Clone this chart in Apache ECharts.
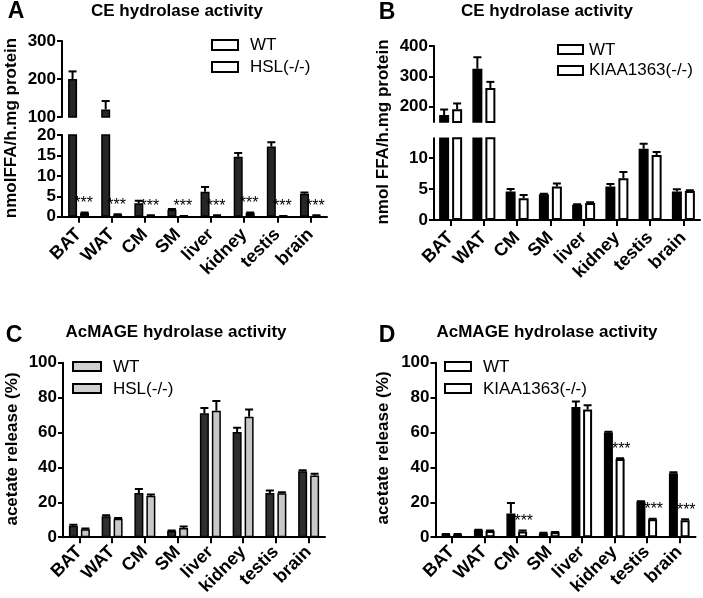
<!DOCTYPE html>
<html>
<head>
<meta charset="utf-8">
<script src="https://cdn.jsdelivr.net/npm/echarts@6/dist/echarts.min.js"></script>
<style>html,body{margin:0;padding:0;background:#fff}#c{width:703px;height:598px}</style>
</head>
<body>
<div id="c"></div>
<script>
// ---------- data ----------
const categories = ['BAT', 'WAT', 'CM', 'SM', 'liver', 'kidney', 'testis', 'brain'];

// Panel A: CE hydrolase activity, WT vs HSL(-/-)  (nmol FFA/h.mg protein)
const A_wt      = [200, 120, 3.3, 1.7, 6.1, 14.7, 17.2, 5.6];
const A_wt_err  = [20, 22, 0.6, 0.2, 1.2, 0.9, 1.0, 0.35];
const A_hsl     = [0.9, 0.5, 0.3, 0.1, 0.3, 0.9, 0.1, 0.3];
const A_hsl_err = [0.1, 0.1, 0.05, 0.05, 0.05, 0.1, 0.05, 0.05];
const A_sig     = ['***', '***', '***', '***', '***', '***', '***', '***'];
const A_upper_ticks = [100, 200, 300];
const A_lower_ticks = [0, 5, 10, 15, 20];

// Panel B: CE hydrolase activity, WT vs KIAA1363(-/-)
const B_wt      = [173, 325, 4.6, 4.15, 2.45, 5.4, 11.5, 4.6];
const B_wt_err  = [18, 38, 0.4, 0.1, 0.1, 0.4, 0.8, 0.35];
const B_ko      = [192, 262, 3.5, 5.4, 2.75, 6.75, 10.5, 4.7];
const B_ko_err  = [19, 20, 0.55, 0.5, 0.1, 1.0, 0.5, 0.1];
const B_upper_ticks = [200, 300, 400];
const B_lower_ticks = [0, 5, 10];

// Panel C: AcMAGE hydrolase activity, WT vs HSL(-/-)  (acetate release %)
const C_wt      = [6.5, 12, 25.3, 3.5, 71, 60.3, 25.3, 37.8];
const C_wt_err  = [0.6, 0.6, 2.3, 0.4, 3, 2.4, 1.4, 0.6];
const C_hsl     = [4.5, 10.5, 23.8, 5.3, 72.5, 69, 25.2, 35.3];
const C_hsl_err = [0.5, 0.5, 0.6, 0.8, 5.5, 4.2, 0.5, 1.0];

// Panel D: AcMAGE hydrolase activity, WT vs KIAA1363(-/-)
const D_wt      = [1.6, 4.1, 13.6, 2.3, 74.6, 60, 20.4, 36.7];
const D_wt_err  = [0.2, 0.2, 6, 0.2, 3.2, 0.4, 0.2, 0.5];
const D_ko      = [1.6, 3.6, 3.3, 2.8, 73.2, 44.8, 10.3, 9.7];
const D_ko_err  = [0.2, 0.2, 0.6, 0.2, 2.4, 0.5, 0.3, 0.6];
const D_sig     = ['', '', '***', '', '', '***', '***', '***'];
const pct_ticks = [0, 20, 40, 60, 80, 100];

// axis ranges (broken axes)
const A_lower = [0, 20], A_upper = [100, 300];
const B_lower = [0, 13.2], B_upper = [150, 400];

// ---------- helpers ----------
const FF = 'Arial, "Liberation Sans", Helvetica, sans-serif';

function yAx(gridIndex, min, max, ticks) {
  return {
    type: 'value', gridIndex, min, max,
    axisLine: { show: true, lineStyle: { color: '#000', width: 2 } },
    axisTick: { show: true, length: 5, lineStyle: { color: '#000', width: 2 }, customValues: ticks },
    axisLabel: { customValues: ticks, color: '#000', fontSize: 17, fontWeight: 'bold', fontFamily: FF, margin: 6 },
    splitLine: { show: false }
  };
}
function xAx(gridIndex, visible, margin) {
  return {
    type: 'category', gridIndex, data: categories, show: visible,
    axisLine: { show: true, onZero: false, lineStyle: { color: '#000', width: 2 } },
    axisTick: { show: true, alignWithLabel: true, length: 6, lineStyle: { color: '#000', width: 2 } },
    axisLabel: { interval: 0, rotate: 45, color: '#000', fontSize: 18, fontWeight: 'bold', fontFamily: FF, margin: margin },
    splitLine: { show: false }
  };
}
function bars(axisIdx, vals, keep, color, bw, gap, bwid) {
  return {
    type: 'bar', xAxisIndex: axisIdx, yAxisIndex: axisIdx, silent: true, clip: true,
    barWidth: bw, barGap: gap, animation: false,
    data: vals.map(v => keep(v) ? v : '-'),
    itemStyle: { color: color, borderColor: '#000', borderWidth: bwid }
  };
}
function errs(axisIdx, vals, es, dx, keep) {
  const data = [];
  vals.forEach((v, i) => { if (keep(v, v + es[i])) data.push([i, v, v + es[i]]); });
  return {
    type: 'custom', xAxisIndex: axisIdx, yAxisIndex: axisIdx, silent: true, clip: true, z: 5,
    encode: { x: 0, y: 1 }, data: data, animation: false,
    renderItem: function (params, api) {
      const c = api.coord([api.value(0), api.value(1)]);
      const t = api.coord([api.value(0), api.value(2)]);
      const x = c[0] + dx;
      return { type: 'group', children: [
        { type: 'line', shape: { x1: x, y1: c[1], x2: x, y2: t[1] }, style: { stroke: '#000', lineWidth: 2 } },
        { type: 'line', shape: { x1: x - 4, y1: t[1], x2: x + 4, y2: t[1] }, style: { stroke: '#000', lineWidth: 2 } }
      ]};
    }
  };
}
function stars(axisIdx, vals, es, sig, dx) {
  const data = [];
  vals.forEach((v, i) => { if (sig[i]) data.push([i, v + es[i], sig[i]]); });
  return {
    type: 'custom', xAxisIndex: axisIdx, yAxisIndex: axisIdx, silent: true, z: 6,
    encode: { x: 0, y: 1 }, data: data, animation: false,
    renderItem: function (params, api) {
      const c = api.coord([api.value(0), api.value(1)]);
      return { type: 'text', x: c[0] + dx, y: c[1] - 1,
        style: { text: data[params.dataIndex][2], fill: '#000', font: '16px ' + FF, textAlign: 'center', textVerticalAlign: 'bottom' } };
    }
  };
}

// grids: 0 A upper, 1 A lower, 2 B upper, 3 B lower, 4 C, 5 D
const grids = [
  { left: 62, top: 41, width: 265, height: 76 },
  { left: 62, top: 135, width: 265, height: 81.7 },
  { left: 434, top: 46, width: 266, height: 76 },
  { left: 434, top: 138.3, width: 266, height: 81.7 },
  { left: 63, top: 362.7, width: 262, height: 176.3 },
  { left: 435.5, top: 362.7, width: 260, height: 176.3 }
];

const xAxes = [xAx(0, false, 14), xAx(1, true, 15), xAx(2, false, 14), xAx(3, true, 15), xAx(4, true, 12), xAx(5, true, 12)];
const yAxes = [
  yAx(0, A_upper[0], A_upper[1], A_upper_ticks),
  yAx(1, A_lower[0], A_lower[1], A_lower_ticks),
  yAx(2, B_upper[0], B_upper[1], B_upper_ticks),
  yAx(3, B_lower[0], B_lower[1], B_lower_ticks),
  yAx(4, 0, 100, pct_ticks),
  yAx(5, 0, 100, pct_ticks)
];

const all = () => true;
const aUp = v => v > A_upper[0];
const bUp = v => v > B_upper[0];
const aLowE = (v, t) => t <= A_lower[1];
const aUpE = (v, t) => v > A_upper[0];
const bLowE = (v, t) => t <= B_lower[1];
const bUpE = (v, t) => v > B_upper[0];

const darkA = '#262626', grayC = '#c8c8c8';
const series = [
  // A upper
  bars(0, A_wt, aUp, darkA, 9, '33%', 1.5), bars(0, A_hsl, aUp, '#fff', 9, '33%', 2),
  errs(0, A_wt, A_wt_err, -6, aUpE),
  // A lower
  bars(1, A_wt, all, darkA, 9, '33%', 1.5), bars(1, A_hsl, all, '#bbb', 9, '33%', 2),
  errs(1, A_wt, A_wt_err, -6, aLowE), errs(1, A_hsl, A_hsl_err, 6, aLowE),
  stars(1, A_hsl, A_hsl_err, A_sig, 5),
  // B upper
  bars(2, B_wt, bUp, '#000', 10, '30%', 1.5), bars(2, B_ko, bUp, '#fff', 10, '30%', 2),
  errs(2, B_wt, B_wt_err, -6.5, bUpE), errs(2, B_ko, B_ko_err, 6.5, bUpE),
  // B lower
  bars(3, B_wt, all, '#000', 10, '30%', 1.5), bars(3, B_ko, all, '#fff', 10, '30%', 2),
  errs(3, B_wt, B_wt_err, -6.5, bLowE), errs(3, B_ko, B_ko_err, 6.5, bLowE),
  // C
  bars(4, C_wt, all, '#2e2e2e', 9, '33%', 1.5), bars(4, C_hsl, all, grayC, 9, '33%', 1.5),
  errs(4, C_wt, C_wt_err, -6, all), errs(4, C_hsl, C_hsl_err, 6, all),
  // D
  bars(5, D_wt, all, '#000', 9, '30%', 1.5), bars(5, D_ko, all, '#fff', 9, '30%', 2),
  errs(5, D_wt, D_wt_err, -5.85, all), errs(5, D_ko, D_ko_err, 5.85, all),
  stars(5, D_ko, D_ko_err, D_sig, 7)
];

function txt(x, y, s, font, rot) {
  return { type: 'text', x: x, y: y, rotation: rot || 0,
    style: { text: s, font: font, fill: '#000', textAlign: 'center', textVerticalAlign: 'middle' } };
}
function legBox(x, y, w, h, fill) {
  return { type: 'rect', shape: { x: x, y: y, width: w, height: h }, style: { fill: fill, stroke: '#000', lineWidth: 2 } };
}
function legTxt(x, y, s) {
  return { type: 'text', x: x, y: y, style: { text: s, font: '17px ' + FF, fill: '#000', textAlign: 'left', textVerticalAlign: 'middle' } };
}
const bold = (n) => 'bold ' + n + 'px ' + FF;
const graphics = [
  txt(16, 12, 'A', bold(23)), txt(387, 13, 'B', bold(23)), txt(14, 336, 'C', bold(23)), txt(387, 336, 'D', bold(23)),
  txt(177, 11, 'CE hydrolase activity', bold(17)),
  txt(547, 11, 'CE hydrolase activity', bold(17)),
  txt(176, 332, 'AcMAGE hydrolase activity', bold(17)),
  txt(547, 332, 'AcMAGE hydrolase activity', bold(17)),
  txt(11, 128, 'nmolFFA/h.mg protein', bold(17), Math.PI / 2),
  txt(383, 132, 'nmol FFA/h.mg protein', bold(17), Math.PI / 2),
  txt(12, 449, 'acetate release (%)', bold(17), Math.PI / 2),
  txt(383, 448, 'acetate release (%)', bold(17), Math.PI / 2),
  legBox(212, 40, 26, 10, '#fff'), legTxt(250, 45, 'WT'),
  legBox(212, 62, 26, 10, '#fff'), legTxt(250, 67, 'HSL(-/-)'),
  legBox(558, 45, 25, 9, '#fff'), legTxt(589, 50, 'WT'),
  legBox(558, 66, 25, 9, '#fff'), legTxt(589, 70, 'KIAA1363(-/-)'),
  legBox(73, 362, 28, 9, '#d0d0d0'), legTxt(113, 367, 'WT'),
  legBox(73, 384, 28, 9, '#d0d0d0'), legTxt(113, 389, 'HSL(-/-)'),
  legBox(445, 362, 26, 9, '#fff'), legTxt(483, 367, 'WT'),
  legBox(445, 384, 26, 9, '#fff'), legTxt(483, 389, 'KIAA1363(-/-)')
];

const chart = echarts.init(document.getElementById('c'), null, { renderer: 'canvas' });
chart.setOption({
  backgroundColor: '#fff',
  animation: false,
  grid: grids,
  xAxis: xAxes,
  yAxis: yAxes,
  series: series,
  graphic: graphics
});
</script>
</body>
</html>
